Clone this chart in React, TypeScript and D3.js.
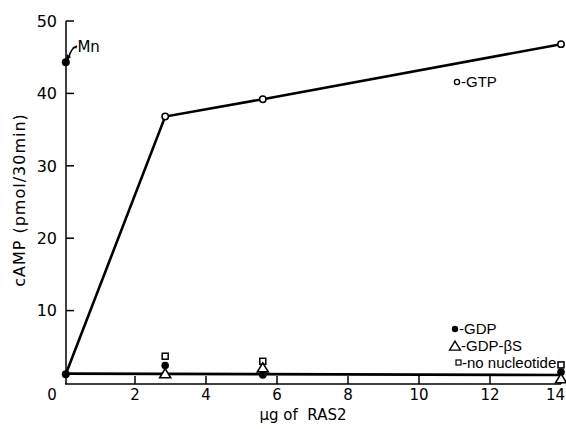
import React from "react";
import * as d3 from "d3";

const xTicks = [2, 4, 6, 8, 10, 12, 14];
const yTicks = [10, 20, 30, 40, 50];
const gtpX = [0.05, 2.85, 5.6, 14];
const gtpY = [1.2, 36.8, 39.2, 46.8];
const baseX = [0.05, 14];
const baseY = [1.3, 1.1];
const ptX = [2.85, 5.6, 14];
const gdpY = [2.4, 1.1, 1.5];
const gdpbsY = [1.3, 2.1, 0.6];
const noNucY = [3.7, 3.0, 2.5];
const mnX = [0.05];
const mnY = [44.3];

export default function App() {
  const x = d3.scaleLinear().domain([0, 14]).range([64, 561]);
  const y = d3.scaleLinear().domain([0, 50]).range([383, 21]);
  const axisX = x(0) + 2;
  const line = d3.line<[number, number]>().x((d) => x(d[0])).y((d) => y(d[1]));
  const gtpPts = gtpX.map((v, i) => [v, gtpY[i]] as [number, number]);
  const basePts = baseX.map((v, i) => [v, baseY[i]] as [number, number]);
  const font = "DejaVu Sans, sans-serif";
  const font2 = "Liberation Sans, Arial, sans-serif";
  const tri = (cx: number, cy: number, s: number) =>
    `M${cx},${cy - s * 0.9} L${cx + s},${cy + s * 0.75} L${cx - s},${cy + s * 0.75} Z`;
  const axisY = 384;
  return (
    <svg width={566} height={429} style={{ position: "absolute", left: 0, top: 0, background: "#fff" }} fontFamily={font}>
      <rect width={566} height={429} fill="#fff" />
      {/* axes */}
      <line x1={axisX} x2={axisX} y1={y(50)} y2={axisY} stroke="#000" strokeWidth={1.5} />
      <line x1={axisX - 1} x2={x(14)} y1={axisY} y2={axisY} stroke="#000" strokeWidth={1.5} />
      {yTicks.map((t) => (
        <g key={"y" + t}>
          <line x1={axisX} x2={axisX + 8} y1={y(t)} y2={y(t)} stroke="#000" strokeWidth={1.5} />
          <text x={57} y={y(t)} dy="0.36em" textAnchor="end" fontSize={16}>
            {t}
          </text>
        </g>
      ))}
      {xTicks.map((t) => (
        <g key={"x" + t}>
          <line x1={x(t)} x2={x(t)} y1={axisY} y2={axisY - 8} stroke="#000" strokeWidth={1.5} />
          <text
            x={t === 14 ? 565 : x(t)}
            y={400}
            textAnchor={t === 14 ? "end" : "middle"}
            fontSize={15}
          >
            {t}
          </text>
        </g>
      ))}
      <text x={x(0) - 12} y={400} textAnchor="middle" fontSize={15}>
        0
      </text>
      {/* axis titles */}
      <text
        transform={`translate(25,200) rotate(-90)`}
        textAnchor="middle"
        fontSize={16}
        letterSpacing={1}
      >
        cAMP (pmol/30min)
      </text>
      <text x={303} y={420} textAnchor="middle" fontSize={15} style={{ whiteSpace: "pre" }}>
        {"μg of  RAS2"}
      </text>
      {/* lines */}
      <path d={line(basePts) || ""} fill="none" stroke="#000" strokeWidth={2.6} />
      <path d={line(gtpPts) || ""} fill="none" stroke="#000" strokeWidth={2.6} />
      {gtpPts.slice(1).map((p, i) => (
        <circle key={"g" + i} cx={x(p[0])} cy={y(p[1])} r={3.2} fill="#fff" stroke="#000" strokeWidth={1.5} />
      ))}
      <circle cx={x(gtpX[0])} cy={y(gtpY[0])} r={4} fill="#000" />
      {/* other series */}
      {ptX.map((v, i) => (
        <g key={"p" + i}>
          <rect x={x(v) - 3} y={y(noNucY[i]) - 3} width={6} height={6} fill="#fff" stroke="#000" strokeWidth={1.5} />
          <circle cx={x(v)} cy={y(gdpY[i])} r={3.8} fill="#000" />
          <path d={tri(x(v), y(gdpbsY[i]), 5.5)} fill="#fff" stroke="#000" strokeWidth={1.6} />
        </g>
      ))}
      {/* Mn */}
      {mnX.map((v, i) => (
        <circle key={"mn" + i} cx={x(v)} cy={y(mnY[i])} r={4} fill="#000" />
      ))}
      <path d="M77,46 Q71,48 69,57" fill="none" stroke="#000" strokeWidth={1.4} />
      <path d="M66,61 L67,54 L71,57 Z" fill="#000" />
      <text x={72} y={52} fontSize={15}>
        -Mn
      </text>
      {/* legend labels */}
      <g fontFamily={font2} fontSize={15}>
        <circle cx={457} cy={82} r={2.6} fill="#fff" stroke="#000" strokeWidth={1.3} />
        <text x={461} y={87}>
          -GTP
        </text>
        <circle cx={455} cy={329} r={3.2} fill="#000" />
        <text x={459} y={334}>
          -GDP
        </text>
        <path d={tri(455, 346, 5.5)} fill="#fff" stroke="#000" strokeWidth={1.4} />
        <text x={461} y={351}>
          -GDP-βS
        </text>
        <rect x={456} y={360} width={5} height={5} fill="#fff" stroke="#000" strokeWidth={1.2} />
        <text x={462} y={368}>
          -no nucleotide
        </text>
      </g>
    </svg>
  );
}
